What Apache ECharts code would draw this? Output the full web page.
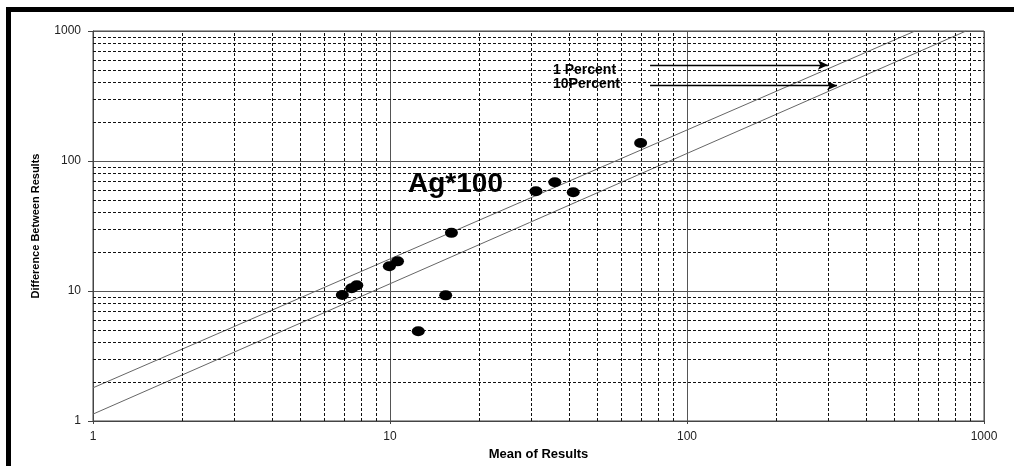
<!DOCTYPE html>
<html>
<head>
<meta charset="utf-8">
<script src="https://cdn.jsdelivr.net/npm/echarts@6/dist/echarts.min.js"></script>
<style>
html,body{margin:0;padding:0;background:#fff;}
#chart{width:1014px;height:466px;}
</style>
</head>
<body>
<div id="chart"></div>
<script>
// ---- data ----
const meanValues = [69.8, 31.0, 35.9, 41.4, 16.1, 9.95, 10.6, 6.91, 7.43, 7.73, 15.4, 12.45];
const diffValues = [137.5, 58.5, 68.6, 57.5, 28.0, 15.5, 16.9, 9.31, 10.5, 11.05, 9.26, 4.90];

// control lines (endpoints on log-log axes)
const line1Percent = [[1, 1.8], [586, 1000]];
const line10Percent = [[1, 1.13], [870, 1000]];

// axis ranges / ticks
const axisMin = 1;
const axisMax = 1000;
const tickLabels = ['1', '10', '100', '1000'];
const minorGrid = [2, 3, 4, 5, 6, 7, 8, 9, 20, 30, 40, 50, 60, 70, 80, 90, 200, 300, 400, 500, 600, 700, 800, 900];

// annotations
const annoTexts = ['1 Percent', '10Percent'];
const annoTextPos = [[35.4, 500], [35.4, 388]];
const annoArrowFrom = [[75.1, 548], [75.1, 380]];
const annoArrowTo = [[298, 548], [320, 380]];
const titleText = 'Ag*100';
const titlePos = [11.5, 66];

const FONT = 'Liberation Sans, Arial, sans-serif';

const chart = echarts.init(document.getElementById('chart'), null, {renderer: 'canvas'});

const points = meanValues.map((m, i) => [m, diffValues[i]]);

function logAxis(isX) {
  return {
    type: 'log',
    logBase: 10,
    min: axisMin,
    max: axisMax,
    splitNumber: 3,
    name: isX ? 'Mean of Results' : 'Difference Between Results',
    nameLocation: 'middle',
    nameGap: isX ? 27 : 52,
    nameTextStyle: isX
      ? {fontFamily: FONT, fontWeight: 'bold', fontSize: 13, color: '#000'}
      : {fontFamily: 'Liberation Sans Narrow, Arial Narrow, ' + FONT, fontWeight: 'bold', fontSize: 11, color: '#000'},
    axisLine: {show: true, onZero: false, lineStyle: {color: '#444', width: 1}},
    axisTick: {show: true, inside: false, length: isX ? 3 : 5, lineStyle: {color: '#444'}},
    axisLabel: {
      fontFamily: FONT, fontSize: 12, color: '#222',
      margin: isX ? 10 : 12,
      formatter: v => {
        const s = String(Math.round(v));
        return tickLabels.includes(s) ? s : '';
      }
    },
    splitLine: {show: true, lineStyle: {color: '#555', width: 1, type: 'solid'}},
    minorTick: {show: false},
    minorSplitLine: {show: false}
  };
}

const option = {
  backgroundColor: '#fff',
  animation: false,
  grid: {left: 93, right: 30, top: 31, bottom: 44, show: true, borderColor: '#444', borderWidth: 1, backgroundColor: 'transparent'},
  xAxis: logAxis(true),
  yAxis: logAxis(false),
  graphic: [
    {type: 'rect', shape: {x: 6, y: 7, width: 1008, height: 5}, style: {fill: '#000'}, z: 100},
    {type: 'rect', shape: {x: 6, y: 7, width: 5, height: 459}, style: {fill: '#000'}, z: 100}
  ],
  series: [
    {
      // minor grid lines
      type: 'line',
      data: [],
      silent: true,
      z: 1,
      markLine: {
        silent: true,
        symbol: ['none', 'none'],
        label: {show: false},
        animation: false,
        lineStyle: {color: '#111', width: 1, type: [3, 2], opacity: 1},
        data: minorGrid.map(v => ({xAxis: v})).concat(minorGrid.map(v => ({yAxis: v})))
      }
    },
    {
      type: 'line',
      data: line1Percent,
      symbol: 'none',
      z: 3,
      lineStyle: {color: '#666', width: 1}
    },
    {
      type: 'line',
      data: line10Percent,
      symbol: 'none',
      z: 3,
      lineStyle: {color: '#666', width: 1}
    },
    {
      type: 'scatter',
      data: points,
      symbol: 'circle',
      symbolSize: [13, 10],
      z: 5,
      itemStyle: {color: '#000', opacity: 1}
    },
    {
      // arrows
      type: 'line',
      data: [],
      z: 4,
      markLine: {
        silent: true,
        symbol: ['none', 'arrow'],
        symbolSize: [7, 10],
        label: {show: false},
        lineStyle: {color: '#000', width: 1.3, type: 'solid', opacity: 1},
        data: annoArrowFrom.map((p, i) => [{coord: p}, {coord: annoArrowTo[i]}])
      }
    },
    {
      // text annotations
      type: 'scatter',
      symbolSize: 0,
      z: 6,
      silent: true,
      itemStyle: {opacity: 1},
      data: annoTexts.map((t, i) => ({name: t, value: annoTextPos[i], label: {fontSize: 14}}))
        .concat([{name: titleText, value: titlePos, label: {fontSize: 28}}]),
      label: {
        show: true,
        position: 'right',
        distance: 0,
        formatter: p => p.name,
        fontFamily: FONT,
        fontWeight: 'bold',
        color: '#000',
        opacity: 1
      }
    }
  ]
};

chart.setOption(option);
</script>
</body>
</html>
